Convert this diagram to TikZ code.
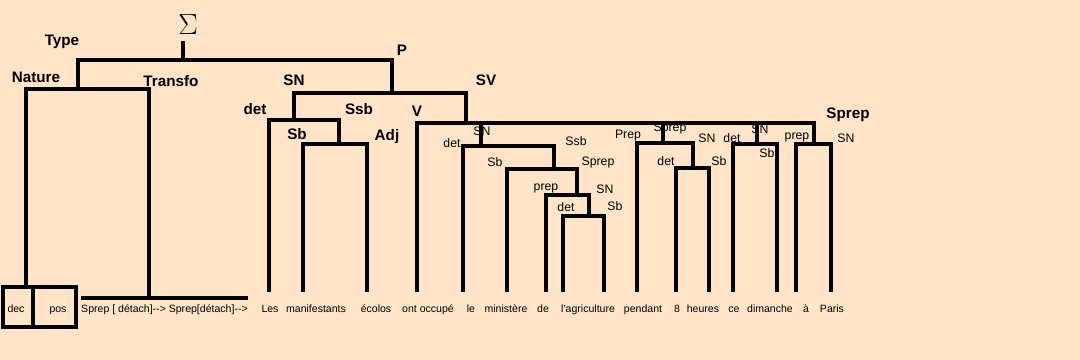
\documentclass[tikz,border=0pt]{standalone}
\usepackage{fontspec}
\setmainfont{Liberation Sans}
\definecolor{peach}{RGB}{255,228,200}
\begin{document}
\begin{tikzpicture}[x=0.03cm,y=-0.03cm,
  branch/.style={line width=2.7pt},
  cat/.style={font=\bfseries\fontsize{13}{14}\selectfont,inner sep=0pt},
  sub/.style={font=\fontsize{10.5}{12}\selectfont,inner sep=0pt},
  word/.style={font=\fontsize{9}{10}\selectfont,inner sep=0pt,anchor=base}]
\fill[peach] (0,0) rectangle (1080,360);
\useasboundingbox (0,0) rectangle (1080,360);
% top of the tree
\node (sigma) at (188,25) {\fontsize{27}{29}\selectfont$\Sigma$};
\draw[branch] (183,41) -- (183,60);
\draw[branch] (78,89) -- (78,60) -- (392,60) -- (392,93);
\node[cat] (type) at (62,42) {Type};
\node[cat] (p) at (402,50) {P};
% left part: type
\draw[branch] (26,288) -- (26,89) -- (149,89) -- (149,298);
\draw[branch] (3,287) rectangle (76,327);
\draw[branch] (33,287) -- (33,327);
\draw[branch] (81,298) -- (248,298);
\node[cat] (nature) at (36,77) {Nature};
\node[cat] (transfo) at (171,81) {Transfo};
\node[word] (dec) at (16,312) {dec};
\node[word] (pos) at (58,312) {pos};
\node[word,anchor=base west] (detach) at (81,312) {Sprep [ détach]-{}-{}> Sprep[détach]-{}-{}>};
% SN
\draw[branch] (294,119) -- (294,93) -- (466,93) -- (466,123);
\draw[branch] (269,292) -- (269,120) -- (339,120) -- (339,144);
\draw[branch] (303,292) -- (303,144) -- (367,144) -- (367,292);
\node[cat] (sn) at (294,80) {SN};
\node[cat] (sv) at (486,80) {SV};
\node[cat] (det) at (255,109) {det};
\node[cat] (ssb) at (359,109) {Ssb};
\node[cat] (v) at (417,111) {V};
\node[cat] (sb) at (297,134) {Sb};
\node[cat] (adj) at (387,137) {Adj};
% SV
\draw[branch] (417,292) -- (417,123) -- (814,123) -- (814,144);
\draw[branch] (481,123) -- (481,146);
\draw[branch] (463,292) -- (463,146) -- (554,146) -- (554,169);
\draw[branch] (507,292) -- (507,169) -- (577,169) -- (577,195);
\draw[branch] (546,292) -- (546,195) -- (589,195) -- (589,216);
\draw[branch] (563,292) -- (563,216) -- (604,216) -- (604,292);
\draw[branch] (663,123) -- (663,143);
\draw[branch] (637,292) -- (637,143) -- (693,143) -- (693,168);
\draw[branch] (676,292) -- (676,168) -- (709,168) -- (709,292);
\draw[branch] (757,123) -- (757,144);
\draw[branch] (733,292) -- (733,144) -- (777,144) -- (777,292);
\draw[branch] (796,292) -- (796,144) -- (831,144) -- (831,292);
\node[cat] (sprep) at (848,115) {Sprep};
\node[sub] (snobj) at (482,131) {SN};
\node[sub] (detobj) at (452,143) {det};
\node[sub] (ssbobj) at (576,141) {Ssb};
\node[sub] (sbobj) at (495,162) {Sb};
\node[sub] (sprepobj) at (598,162) {Sprep};
\node[sub] (prepobj) at (546,188) {prep};
\node[sub] (snagr) at (605,189) {SN};
\node[sub] (detagr) at (566,207) {det};
\node[sub] (sbagr) at (615,206) {Sb};
\node[sub] (preppen) at (628,136) {Prep};
\node[sub] (spreppen) at (670,128) {Sprep};
\node[sub] (snpen) at (707,138) {SN};
\node[sub] (detpen) at (666,161) {det};
\node[sub] (sbpen) at (719,161) {Sb};
\node[sub] (detdim) at (732,138) {det};
\node[sub] (sndim) at (760,129) {SN};
\node[sub] (sbdim) at (767,153) {Sb};
\node[sub] (prepar) at (797,137) {prep};
\node[sub] (snpar) at (846,138) {SN};
% the sentence
\node[word] (w1) at (270,312) {Les};
\node[word] (w2) at (316,312) {manifestants};
\node[word] (w3) at (376,312) {écolos};
\node[word] (w4) at (428,312) {ont occupé};
\node[word] (w5) at (471,312) {le};
\node[word] (w6) at (506,312) {ministère};
\node[word] (w7) at (543,312) {de};
\node[word] (w8) at (588,312) {l\char39 agriculture};
\node[word] (w9) at (643,312) {pendant};
\node[word] (w10) at (677,312) {8};
\node[word] (w11) at (703,312) {heures};
\node[word] (w12) at (734,312) {ce};
\node[word] (w13) at (770,312) {dimanche};
\node[word] (w14) at (806,312) {à};
\node[word] (w15) at (832,312) {Paris};
\end{tikzpicture}
\end{document}
